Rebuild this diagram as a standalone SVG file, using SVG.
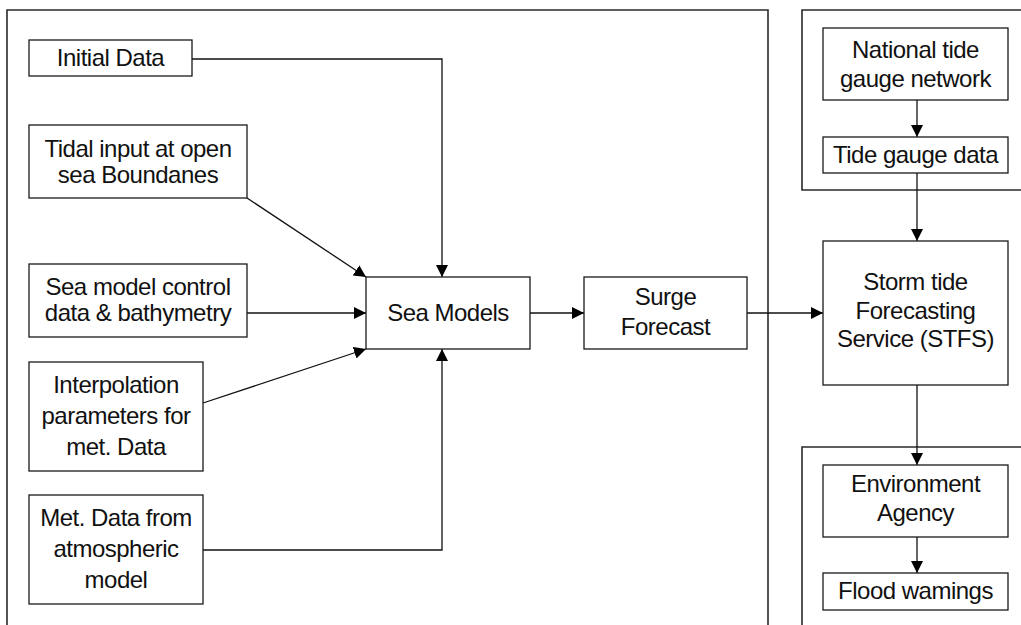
<svg xmlns="http://www.w3.org/2000/svg" width="1021" height="625" viewBox="0 0 1021 625">
<defs>
<style>
.frame{fill:none;stroke:#2a2a2a;stroke-width:1.6}
.box{fill:#fff;stroke:#1a1a1a;stroke-width:1.3}
.lbl{font-family:"Liberation Sans",Arial,sans-serif;font-size:24px;letter-spacing:-0.5px;fill:#111;text-anchor:middle}
.conn{fill:none;stroke:#111;stroke-width:1.3}
</style>
<marker id="arr" markerUnits="userSpaceOnUse" markerWidth="12" markerHeight="12" refX="12" refY="6" orient="auto">
<path d="M0,0 L12,6 L0,12 z" fill="#000"/>
</marker>
</defs>
<rect width="1021" height="625" fill="#fff"/>
<g id="frames">
<path class="frame" d="M7,625 V10 H768 V625"/>
<path class="frame" d="M1021,10 H802 V190 H1021"/>
<path class="frame" d="M1021,447 H802 V625"/>
</g>
<g id="connectors">
<path class="conn" d="M192,59 H442 V277" marker-end="url(#arr)"/>
<path class="conn" d="M247,198 L366,277" marker-end="url(#arr)"/>
<path class="conn" d="M247,313 H366" marker-end="url(#arr)"/>
<path class="conn" d="M203,403 L366,349" marker-end="url(#arr)"/>
<path class="conn" d="M203,550 H442 V349" marker-end="url(#arr)"/>
<path class="conn" d="M530,313 H584" marker-end="url(#arr)"/>
<path class="conn" d="M747,313 H823" marker-end="url(#arr)"/>
<path class="conn" d="M917,100 V137" marker-end="url(#arr)"/>
<path class="conn" d="M917,173 V241" marker-end="url(#arr)"/>
<path class="conn" d="M917,385 V465" marker-end="url(#arr)"/>
<path class="conn" d="M917,537 V573" marker-end="url(#arr)"/>
</g>
<g id="initial-data">
<rect class="box" x="29" y="40" width="163" height="36"/>
<text class="lbl" x="110.5" y="66">Initial Data</text>
</g>
<g id="tidal-input">
<rect class="box" x="29" y="125" width="218" height="73"/>
<text class="lbl" x="138" y="157">Tidal input at open</text>
<text class="lbl" x="138" y="183">sea Boundanes</text>
</g>
<g id="sea-model-control">
<rect class="box" x="29" y="264" width="218" height="73"/>
<text class="lbl" x="138" y="295">Sea model control</text>
<text class="lbl" x="138" y="321">data &amp; bathymetry</text>
</g>
<g id="interpolation">
<rect class="box" x="29" y="362" width="174" height="109"/>
<text class="lbl" x="116" y="393">Interpolation</text>
<text class="lbl" x="116" y="424">parameters for</text>
<text class="lbl" x="116" y="455">met. Data</text>
</g>
<g id="met-data">
<rect class="box" x="29" y="495" width="174" height="109"/>
<text class="lbl" x="116" y="526">Met. Data from</text>
<text class="lbl" x="116" y="557">atmospheric</text>
<text class="lbl" x="116" y="588">model</text>
</g>
<g id="sea-models">
<rect class="box" x="366" y="277" width="164" height="72"/>
<text class="lbl" x="448" y="321">Sea Models</text>
</g>
<g id="surge-forecast">
<rect class="box" x="584" y="277" width="163" height="72"/>
<text class="lbl" x="665.5" y="305">Surge</text>
<text class="lbl" x="665.5" y="335">Forecast</text>
</g>
<g id="national-tide">
<rect class="box" x="823" y="28" width="185" height="72"/>
<text class="lbl" x="915.5" y="58">National tide</text>
<text class="lbl" x="915.5" y="87">gauge network</text>
</g>
<g id="tide-gauge-data">
<rect class="box" x="823" y="137" width="185" height="36"/>
<text class="lbl" x="915.5" y="163">Tide gauge data</text>
</g>
<g id="stfs">
<rect class="box" x="823" y="241" width="185" height="144"/>
<text class="lbl" x="915.5" y="290">Storm tide</text>
<text class="lbl" x="915.5" y="318.5">Forecasting</text>
<text class="lbl" x="915.5" y="347">Service (STFS)</text>
</g>
<g id="environment-agency">
<rect class="box" x="823" y="465" width="185" height="72"/>
<text class="lbl" x="915.5" y="492">Environment</text>
<text class="lbl" x="915.5" y="521">Agency</text>
</g>
<g id="flood-warnings">
<rect class="box" x="823" y="573" width="185" height="37"/>
<text class="lbl" x="915.5" y="599">Flood wamings</text>
</g>
</svg>
